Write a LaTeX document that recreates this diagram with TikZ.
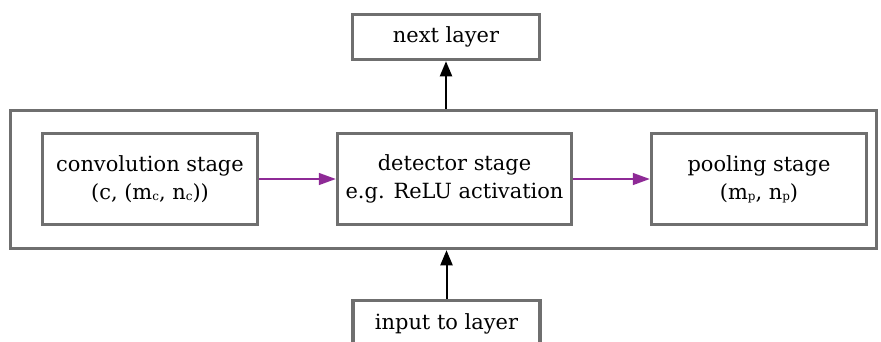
\documentclass[tikz,border=0pt]{standalone}
\usepackage{fontspec}
\setmainfont{DejaVu Serif}
\usetikzlibrary{arrows.meta}
\definecolor{boxgray}{HTML}{6F6F6F}
\definecolor{flowpurple}{HTML}{8E2A96}
\newcommand{\lowsub}[1]{\raisebox{-0.1ex}{\fontsize{12}{12}\selectfont #1}}
\begin{document}
\begin{tikzpicture}[x=1bp,y=-1bp,
  box/.style={draw=boxgray, line width=3.5bp, fill=white, align=center,
    inner sep=0pt, font=\fontsize{21}{28}\selectfont},
  flow/.style={draw=flowpurple, line width=1.6bp,
    -{Triangle[length=17bp,width=12bp]}, fill=flowpurple},
  feed/.style={draw=black, line width=2bp,
    -{Triangle[length=15bp,width=12bp]}}]
\useasboundingbox (0,0) rectangle (881,341);
\clip (0,0) rectangle (881,341);
% layer frame
\node[box, minimum width=866bp, minimum height=138bp] (layer) at (443.5,179.5) {};
% stages inside the layer
\node[box, minimum width=215bp, minimum height=91bp] (conv) at (150,179)
  {convolution stage\\(c, (m\lowsub{c}, n\lowsub{c}))};
\node[box, minimum width=234bp, minimum height=91bp] (det) at (454.5,179)
  {detector stage\\e.g. ReLU activation};
\node[box, minimum width=215bp, minimum height=91bp] (pool) at (759,179)
  {pooling stage\\(m\lowsub{p}, n\lowsub{p})};
% neighbouring layers
\node[box, minimum width=187bp, minimum height=45bp] (next) at (446,37) {next layer};
\node[box, minimum width=187bp, minimum height=48bp, anchor=north] (input) at (446.5,298.5) {input to layer};
% connectors
\draw[flow] (conv.east) -- (det.west);
\draw[flow] (det.east) -- (pool.west);
\draw[feed] (layer.north -| next.south) -- (next.south);
\draw[feed] (input.north) -- (layer.south -| input.north);
\end{tikzpicture}
\end{document}
